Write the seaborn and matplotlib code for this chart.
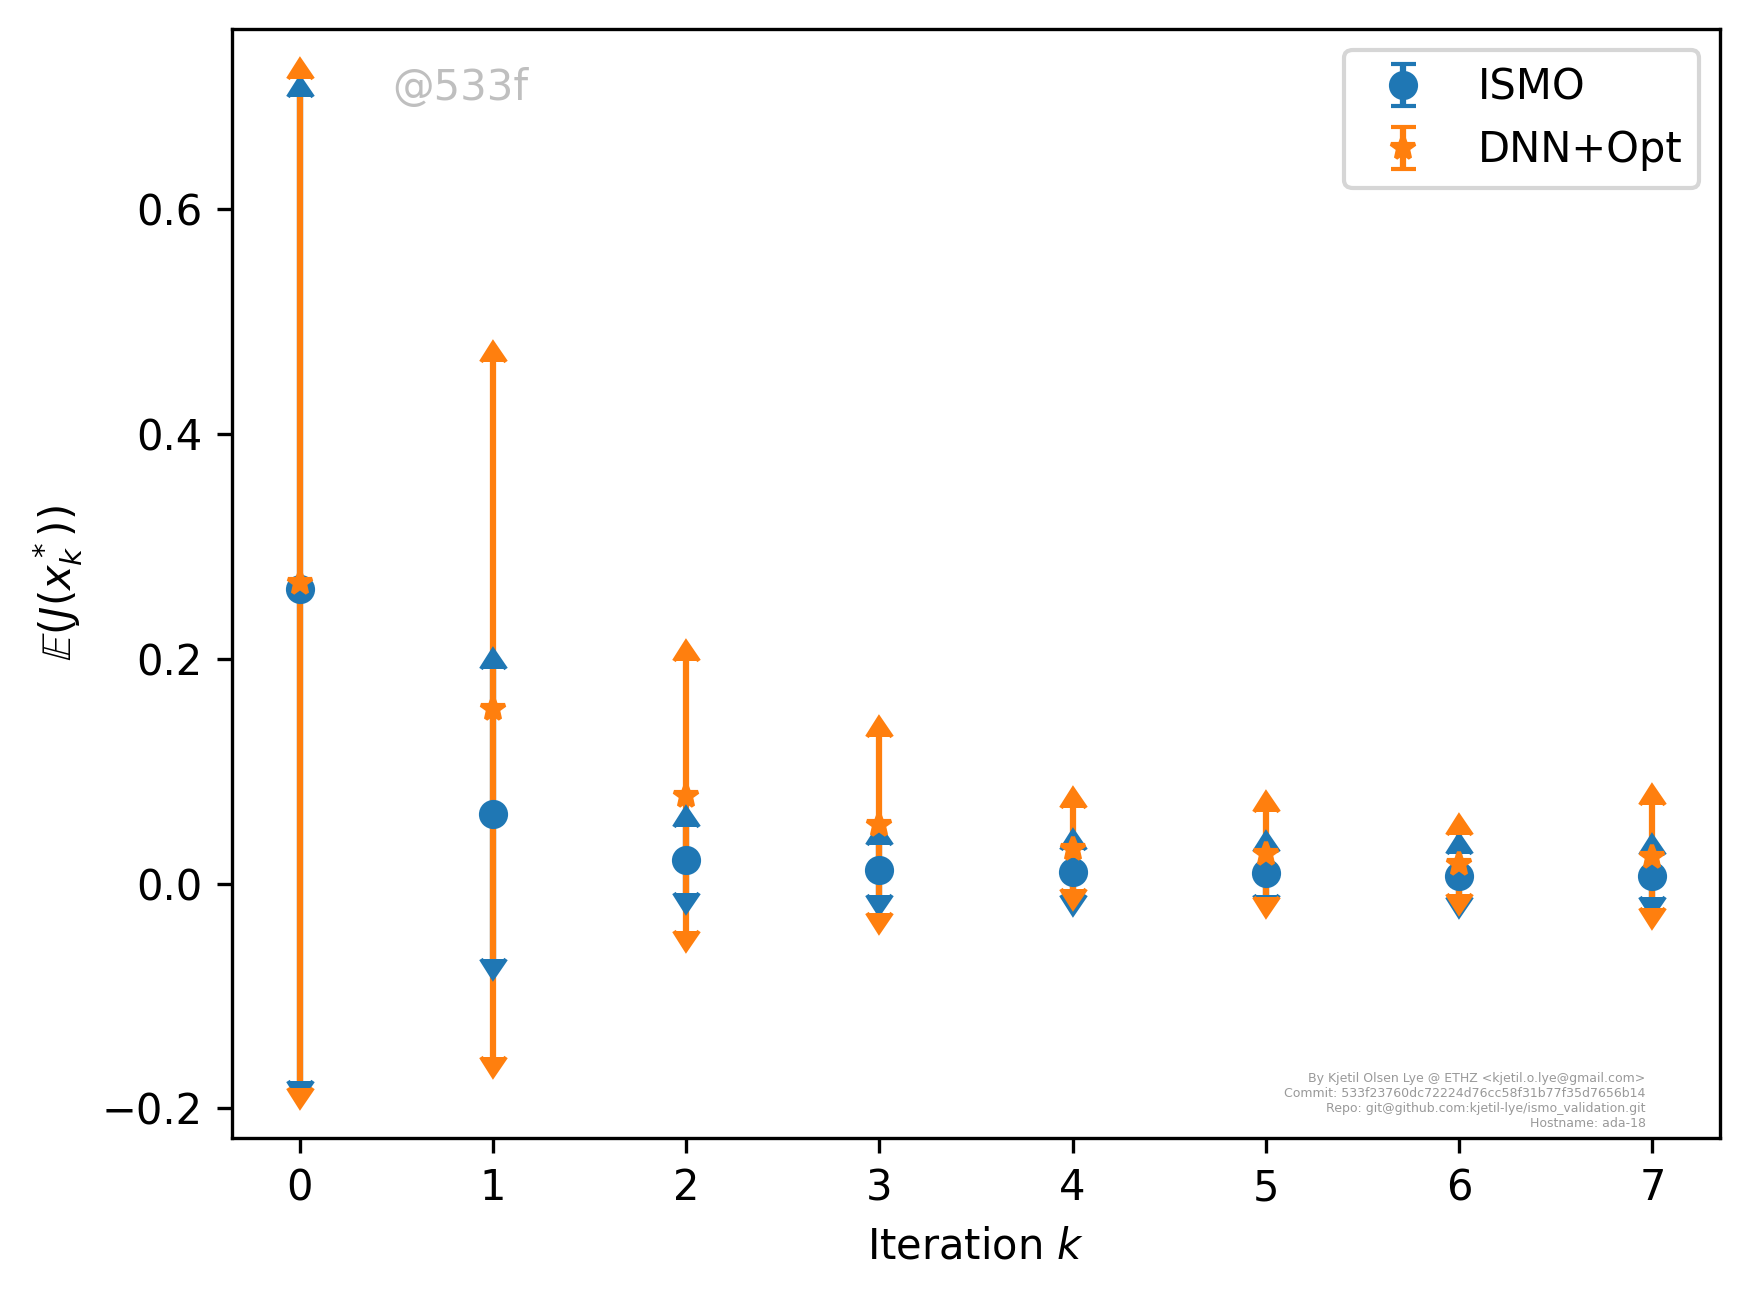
import numpy as np
import matplotlib
matplotlib.use("Agg")
import matplotlib.pyplot as plt
import seaborn as sns

# values
iterations = [0, 1, 2, 3, 4, 5, 6, 7]
ismo_mean = [0.262, 0.062, 0.021, 0.012, 0.010, 0.009, 0.007, 0.007]
ismo_err = [0.438, 0.129, 0.029, 0.022, 0.020, 0.0195, 0.019, 0.0185]
dnn_mean = [0.267, 0.155, 0.078, 0.052, 0.031, 0.026, 0.017, 0.024]
dnn_err = [0.4485, 0.309, 0.120, 0.078, 0.036, 0.038, 0.026, 0.046]

series = [("ISMO", ismo_mean, ismo_err, "o"),
          ("DNN+Opt", dnn_mean, dnn_err, "*")]

colors = sns.color_palette("tab10", 2)

fig = plt.figure(figsize=(1749 / 300, 1298 / 300), dpi=300)
ax = fig.add_axes([232 / 1749, 160 / 1298, 1488 / 1749, 1109 / 1298])

for (name, mean, err, marker), c in zip(series, colors):
    # lower half with down caret (carries the marker and the legend entry)
    low = ax.errorbar(iterations, mean, yerr=err, fmt=marker, color=c,
                      uplims=True, label=name)
    # upper half with up caret
    up = ax.errorbar(iterations, mean, yerr=err, fmt="none", color=c,
                     lolims=True)
    for cont in (low, up):
        for bc in cont.lines[2]:
            bc.set_zorder(1.5)

ax.set_xlabel("Iteration $k$")
ax.set_ylabel(r"$\mathbb{E}(J(x_k^*))$")
ax.legend(loc="upper right")

ax.text(0.108, 0.936, "@533f", transform=ax.transAxes, fontsize=10,
        color="gray", alpha=0.5, ha="left", va="baseline")

info = ("By Kjetil Olsen Lye @ ETHZ <kjetil.o.lye@gmail.com>\n"
        "Commit: 533f23760dc72224d76cc58f31b77f35d7656b14\n"
        "Repo: git@github.com:kjetil-lye/ismo_validation.git\n"
        "Hostname: ada-18")
ax.text(0.950, 0.010, info, transform=ax.transAxes, fontsize=3,
        color="#999999", ha="right", va="baseline", multialignment="right")

fig.savefig("out.png", dpi=300)
